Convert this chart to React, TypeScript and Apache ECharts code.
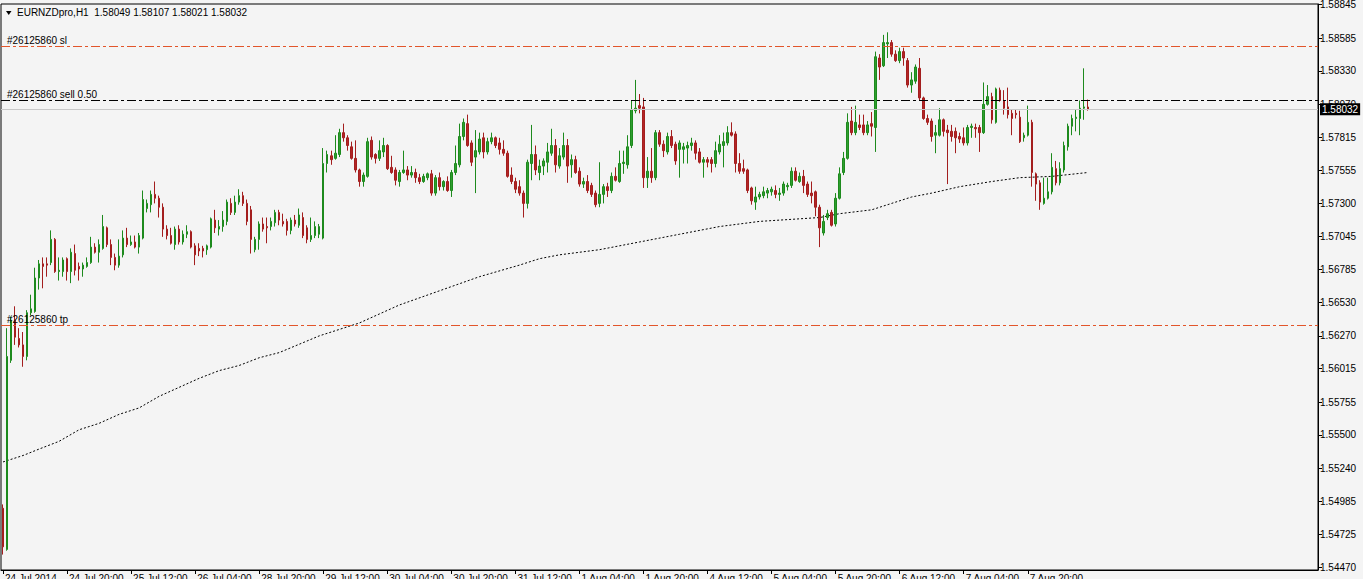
import React, { useEffect, useRef } from "react";
import * as echarts from "echarts";

const headerText = "EURNZDpro,H1  1.58049 1.58107 1.58021 1.58032";

const timeLabels = [
  "24 Jul 2014", "24 Jul 20:00", "25 Jul 12:00", "26 Jul 04:00", "28 Jul 20:00",
  "29 Jul 12:00", "30 Jul 04:00", "30 Jul 20:00", "31 Jul 12:00", "1 Aug 04:00",
  "1 Aug 20:00", "4 Aug 12:00", "5 Aug 04:00", "5 Aug 20:00", "6 Aug 12:00",
  "7 Aug 04:00", "7 Aug 20:00",
];

const priceTicks = [
  1.5447, 1.54725, 1.54985, 1.5524, 1.555, 1.55755, 1.56015, 1.5627, 1.5653,
  1.56785, 1.57045, 1.573, 1.57555, 1.57815, 1.5807, 1.5833, 1.58585, 1.58845,
];

const opens = [
  1.5493,1.5461,1.5608,1.5639,1.5625,1.5620,1.5611,1.5645,1.5646,1.5672,
  1.5683,1.5683,1.5684,1.5702,1.5677,1.5677,1.5687,1.5677,1.5691,1.5681,
  1.5679,1.5681,1.5684,1.5696,1.5692,1.5695,1.5711,1.5698,1.5688,1.5682,
  1.5690,1.5703,1.5698,1.5700,1.5696,1.5703,1.5726,1.5729,1.5737,1.5734,
  1.5727,1.5710,1.5705,1.5698,1.5710,1.5700,1.5706,1.5708,1.5697,1.5695,
  1.5695,1.5694,1.5696,1.5717,1.5710,1.5712,1.5716,1.5730,1.5723,1.5731,
  1.5736,1.5730,1.5725,1.5694,1.5702,1.5714,1.5712,1.5712,1.5715,1.5723,
  1.5716,1.5716,1.5709,1.5717,1.5713,1.5719,1.5711,1.5702,1.5705,1.5706,
  1.5703,1.5761,1.5767,1.5765,1.5768,1.5785,1.5781,1.5774,1.5765,1.5756,
  1.5747,1.5751,1.5779,1.5768,1.5765,1.5770,1.5775,1.5758,1.5756,1.5747,
  1.5754,1.5756,1.5752,1.5754,1.5750,1.5747,1.5750,1.5753,1.5738,1.5750,
  1.5743,1.5747,1.5740,1.5754,1.5760,1.5782,1.5792,1.5777,1.5766,1.5770,
  1.5781,1.5770,1.5778,1.5781,1.5777,1.5772,1.5769,1.5752,1.5747,1.5743,
  1.5738,1.5730,1.5761,1.5768,1.5754,1.5759,1.5762,1.5769,1.5775,1.5759,
  1.5766,1.5775,1.5760,1.5764,1.5755,1.5745,1.5747,1.5744,1.5738,1.5730,
  1.5737,1.5743,1.5740,1.5751,1.5747,1.5761,1.5760,1.5775,1.5802,1.5806,
  1.5805,1.5750,1.5755,1.5750,1.5785,1.5776,1.5770,1.5782,1.5776,1.5772,
  1.5772,1.5773,1.5775,1.5777,1.5770,1.5762,1.5764,1.5764,1.5761,1.5770,
  1.5775,1.5777,1.5785,1.5784,1.5761,1.5757,1.5756,1.5742,1.5731,1.5735,
  1.5736,1.5738,1.5739,1.5740,1.5737,1.5738,1.5743,1.5744,1.5755,1.5747,
  1.5751,1.5745,1.5738,1.5739,1.5727,1.5707,1.5719,1.5723,1.5714,1.5734,
  1.5754,1.5765,1.5794,1.5785,1.5791,1.5791,1.5785,1.5792,1.5789,1.5843,
  1.5837,1.5854,1.5855,1.5846,1.5841,1.5848,1.5841,1.5822,1.5825,1.5835,
  1.5812,1.5796,1.5794,1.5783,1.5783,1.5795,1.5787,1.5786,1.5786,1.5782,
  1.5781,1.5777,1.5789,1.5789,1.5789,1.5785,1.5807,1.5813,1.5793,1.5818,
  1.5810,1.5805,1.5800,1.5800,1.5797,1.5781,1.5783,1.5793,1.5753,1.5746,
  1.5730,1.5734,1.5739,1.5757,1.5746,1.5756,1.5774,1.5790,1.5796,1.5796,
  1.5804,1.58049,
];

const highs = [
  1.5496,1.5633,1.5642,1.5650,1.5633,1.5630,1.5647,1.5659,1.5680,1.5686,
  1.5688,1.5688,1.5709,1.5703,1.5688,1.5688,1.5688,1.5695,1.5698,1.5684,
  1.5684,1.5688,1.5704,1.5699,1.5702,1.5721,1.5712,1.5702,1.5691,1.5702,
  1.5709,1.5711,1.5705,1.5705,1.5707,1.5740,1.5733,1.5740,1.5747,1.5736,
  1.5730,1.5713,1.5711,1.5712,1.5713,1.5709,1.5713,1.5709,1.5699,1.5699,
  1.5697,1.5698,1.5719,1.5725,1.5717,1.5724,1.5733,1.5734,1.5736,1.5741,
  1.5739,1.5733,1.5728,1.5704,1.5716,1.5719,1.5719,1.5719,1.5725,1.5725,
  1.5722,1.5718,1.5719,1.5721,1.5726,1.5723,1.5713,1.5719,1.5716,1.5714,
  1.5773,1.5771,1.5771,1.5783,1.5788,1.5792,1.5783,1.5778,1.5779,1.5757,
  1.5754,1.5781,1.5782,1.5769,1.5779,1.5781,1.5776,1.5767,1.5758,1.5756,
  1.5771,1.5759,1.5759,1.5757,1.5753,1.5753,1.5754,1.5756,1.5752,1.5754,
  1.5748,1.5751,1.5756,1.5775,1.5792,1.5796,1.5799,1.5779,1.5787,1.5785,
  1.5785,1.5781,1.5785,1.5782,1.5781,1.5779,1.5771,1.5758,1.5750,1.5748,
  1.5740,1.5764,1.5791,1.5775,1.5764,1.5765,1.5777,1.5788,1.5780,1.5773,
  1.5785,1.5780,1.5768,1.5767,1.5758,1.5750,1.5752,1.5746,1.5740,1.5762,
  1.5745,1.5746,1.5754,1.5758,1.5771,1.5771,1.5783,1.5810,1.5826,1.5815,
  1.5812,1.5766,1.5773,1.5787,1.5787,1.5779,1.5785,1.5787,1.5778,1.5779,
  1.5777,1.5778,1.5781,1.5779,1.5773,1.5766,1.5766,1.5766,1.5778,1.5783,
  1.5785,1.5790,1.5793,1.5786,1.5769,1.5764,1.5757,1.5743,1.5743,1.5739,
  1.5743,1.5742,1.5743,1.5744,1.5742,1.5747,1.5746,1.5758,1.5758,1.5754,
  1.5756,1.5747,1.5747,1.5740,1.5729,1.5721,1.5725,1.5725,1.5738,1.5758,
  1.5770,1.5800,1.5805,1.5806,1.5799,1.5799,1.5794,1.5801,1.5848,1.5846,
  1.5861,1.5863,1.5857,1.5849,1.5851,1.5851,1.5843,1.5832,1.5838,1.5843,
  1.5813,1.5799,1.5796,1.5791,1.5804,1.5796,1.5791,1.5791,1.5789,1.5785,
  1.5789,1.5791,1.5792,1.5792,1.5791,1.5824,1.5822,1.5816,1.5820,1.5820,
  1.5818,1.5820,1.5803,1.5803,1.5802,1.5785,1.5806,1.5795,1.5754,1.5748,
  1.5750,1.5750,1.5769,1.5763,1.5762,1.5778,1.5792,1.5799,1.5803,1.5810,
  1.5835,1.58107,
];

const lows = [
  1.5457,1.5460,1.5606,1.5620,1.5618,1.5603,1.5608,1.5643,1.5645,1.5663,
  1.5664,1.5673,1.5682,1.5676,1.5670,1.5673,1.5670,1.5668,1.5674,1.5670,
  1.5673,1.5680,1.5683,1.5691,1.5684,1.5694,1.5696,1.5682,1.5678,1.5680,
  1.5688,1.5696,1.5697,1.5695,1.5691,1.5702,1.5723,1.5723,1.5730,1.5719,
  1.5704,1.5702,1.5698,1.5694,1.5698,1.5698,1.5703,1.5695,1.5682,1.5689,
  1.5688,1.5690,1.5695,1.5707,1.5705,1.5708,1.5713,1.5721,1.5721,1.5729,
  1.5728,1.5713,1.5691,1.5692,1.5694,1.5708,1.5699,1.5709,1.5712,1.5713,
  1.5712,1.5705,1.5706,1.5712,1.5711,1.5703,1.5699,1.5700,1.5703,1.5703,
  1.5702,1.5754,1.5760,1.5764,1.5766,1.5778,1.5771,1.5764,1.5754,1.5743,
  1.5743,1.5750,1.5764,1.5761,1.5763,1.5766,1.5756,1.5753,1.5744,1.5743,
  1.5753,1.5748,1.5750,1.5746,1.5745,1.5746,1.5748,1.5736,1.5736,1.5740,
  1.5740,1.5739,1.5735,1.5752,1.5758,1.5779,1.5774,1.5759,1.5738,1.5768,
  1.5765,1.5768,1.5776,1.5773,1.5768,1.5767,1.5750,1.5745,1.5738,1.5736,
  1.5719,1.5726,1.5748,1.5752,1.5748,1.5752,1.5754,1.5767,1.5754,1.5757,
  1.5764,1.5746,1.5750,1.5753,1.5743,1.5742,1.5738,1.5735,1.5727,1.5727,
  1.5730,1.5735,1.5738,1.5747,1.5746,1.5753,1.5757,1.5773,1.5800,1.5800,
  1.5742,1.5742,1.5746,1.5748,1.5774,1.5766,1.5768,1.5773,1.5760,1.5750,
  1.5761,1.5761,1.5771,1.5764,1.5761,1.5750,1.5758,1.5754,1.5758,1.5768,
  1.5758,1.5775,1.5782,1.5754,1.5753,1.5753,1.5738,1.5729,1.5725,1.5733,
  1.5734,1.5734,1.5736,1.5734,1.5732,1.5736,1.5740,1.5742,1.5747,1.5746,
  1.5738,1.5735,1.5730,1.5720,1.5696,1.5705,1.5717,1.5712,1.5712,1.5733,
  1.5752,1.5764,1.5783,1.5783,1.5787,1.5783,1.5783,1.5782,1.5770,1.5826,
  1.5836,1.5843,1.5844,1.5840,1.5839,1.5837,1.5820,1.5816,1.5823,1.5810,
  1.5795,1.5791,1.5778,1.5769,1.5782,1.5782,1.5745,1.5778,1.5769,1.5777,
  1.5775,1.5775,1.5781,1.5781,1.5770,1.5784,1.5806,1.5792,1.5792,1.5809,
  1.5799,1.5796,1.5783,1.5796,1.5777,1.5778,1.5782,1.5743,1.5732,1.5725,
  1.5729,1.5733,1.5737,1.5744,1.5744,1.5754,1.5771,1.5783,1.5786,1.5783,
  1.5795,1.58021,
];

const closes = [
  1.5463,1.5611,1.5639,1.5626,1.5620,1.5611,1.5645,1.5648,1.5672,1.5683,
  1.5681,1.5682,1.5702,1.5677,1.5678,1.5686,1.5677,1.5692,1.5678,1.5679,
  1.5682,1.5684,1.5696,1.5692,1.5698,1.5712,1.5698,1.5688,1.5682,1.5689,
  1.5703,1.5698,1.5700,1.5696,1.5705,1.5733,1.5730,1.5737,1.5734,1.5727,
  1.5710,1.5705,1.5699,1.5710,1.5700,1.5706,1.5708,1.5696,1.5690,1.5693,
  1.5693,1.5697,1.5718,1.5711,1.5712,1.5717,1.5731,1.5723,1.5731,1.5736,
  1.5730,1.5716,1.5702,1.5702,1.5714,1.5710,1.5711,1.5716,1.5723,1.5717,
  1.5714,1.5709,1.5717,1.5714,1.5721,1.5705,1.5702,1.5705,1.5712,1.5712,
  1.5761,1.5768,1.5764,1.5769,1.5785,1.5781,1.5775,1.5765,1.5756,1.5747,
  1.5752,1.5778,1.5766,1.5765,1.5771,1.5775,1.5757,1.5754,1.5748,1.5754,
  1.5756,1.5752,1.5754,1.5750,1.5747,1.5751,1.5753,1.5738,1.5750,1.5743,
  1.5747,1.5740,1.5754,1.5761,1.5782,1.5793,1.5775,1.5762,1.5771,1.5780,
  1.5770,1.5778,1.5781,1.5775,1.5772,1.5769,1.5751,1.5747,1.5741,1.5738,
  1.5730,1.5762,1.5768,1.5756,1.5759,1.5763,1.5770,1.5775,1.5760,1.5767,
  1.5775,1.5759,1.5764,1.5754,1.5745,1.5747,1.5740,1.5737,1.5729,1.5737,
  1.5743,1.5740,1.5751,1.5748,1.5761,1.5762,1.5774,1.5803,1.5804,1.5804,
  1.5750,1.5755,1.5750,1.5785,1.5776,1.5771,1.5782,1.5775,1.5763,1.5777,
  1.5774,1.5775,1.5777,1.5769,1.5762,1.5764,1.5762,1.5761,1.5771,1.5776,
  1.5778,1.5785,1.5783,1.5761,1.5755,1.5755,1.5740,1.5732,1.5735,1.5737,
  1.5739,1.5740,1.5741,1.5737,1.5738,1.5745,1.5744,1.5755,1.5748,1.5751,
  1.5744,1.5737,1.5736,1.5727,1.5711,1.5716,1.5722,1.5713,1.5734,1.5753,
  1.5765,1.5793,1.5785,1.5793,1.5789,1.5785,1.5791,1.5790,1.5844,1.5836,
  1.5855,1.5855,1.5846,1.5841,1.5848,1.5843,1.5822,1.5826,1.5836,1.5812,
  1.5796,1.5793,1.5782,1.5785,1.5795,1.5786,1.5785,1.5782,1.5781,1.5780,
  1.5777,1.5789,1.5790,1.5788,1.5785,1.5807,1.5813,1.5795,1.5819,1.5810,
  1.5804,1.5799,1.5796,1.5799,1.5778,1.5783,1.5793,1.5754,1.5745,1.5731,
  1.5734,1.5739,1.5758,1.5746,1.5757,1.5775,1.5790,1.5796,1.5797,1.5804,
  1.5805,1.58032,
];

const maBars = [
  0, 5, 9, 14, 19, 24, 29, 34, 39, 44, 49, 54, 59, 64, 69, 79, 89, 99, 109, 119,
  129, 134, 139, 149, 159, 169, 179, 189, 199, 204, 209, 217, 222, 227, 232, 239,
  247, 254, 262, 271,
];
const maValues = [
  1.5529, 1.5534, 1.5539, 1.5545, 1.5554, 1.5559, 1.5566, 1.5571, 1.558, 1.5587,
  1.5594, 1.56, 1.5604, 1.561, 1.5614, 1.5627, 1.5637, 1.5651, 1.5662, 1.5673,
  1.5682, 1.5687, 1.569, 1.5694, 1.57, 1.5706, 1.5712, 1.5716, 1.5718, 1.5719,
  1.5722, 1.5725, 1.573, 1.5735, 1.5738, 1.5743, 1.5747, 1.575, 1.5751, 1.5754,
];

const slPrice = 1.5852;
const entryPrice = 1.581;
const tpPrice = 1.5635;
const bidPrice = 1.58032;
const slLabel = "#26125860 sl";
const entryLabel = "#26125860 sell 0.50";
const tpLabel = "#26125860 tp";
const slotCount = 329;

export default function App() {
  const ref = useRef<HTMLDivElement>(null);

  useEffect(() => {
    const chart = echarts.init(ref.current as HTMLDivElement, null, { renderer: "svg" });
    const font = "Liberation Sans, Arial, sans-serif";
    const candles = opens.map((o, i) => [o, closes[i], lows[i], highs[i]]);
    const slots = Array.from({ length: slotCount }, (_, i) => String(i));
    const showTick = (i: number) => i % 16 === 0 && i / 16 < timeLabels.length;
    const dashDot = [9, 3, 3, 3];
    const orderLine = (price: number, text: string, color: string) => ({
      yAxis: price,
      lineStyle: { color, width: 1, type: dashDot },
      label: {
        show: true,
        position: "insideStartTop",
        formatter: text,
        color: "#000",
        fontSize: 10,
        fontFamily: font,
        distance: [6, 1],
      },
    });

    chart.setOption({
      animation: false,
      backgroundColor: "#f4f4f4",
      grid: {
        left: 1,
        right: 45,
        top: 4,
        bottom: 9,
        containLabel: false,
        outerBoundsMode: "none",
        show: true,
        borderColor: "#000",
        borderWidth: 1,
        backgroundColor: "#f4f4f4",
      },
      xAxis: {
        type: "category",
        data: slots,
        boundaryGap: true,
        axisLine: { show: true, lineStyle: { color: "#000", width: 1 } },
        axisTick: {
          show: true,
          alignWithLabel: true,
          interval: (i: number) => showTick(i),
          length: 4,
          lineStyle: { color: "#000" },
        },
        axisLabel: {
          show: true,
          interval: (i: number) => showTick(i),
          formatter: (_v: string, i: number) => (showTick(i) ? timeLabels[i / 16] : ""),
          align: "left",
          margin: 3,
          padding: [0, 0, 0, 2],
          fontSize: 10,
          fontFamily: font,
          color: "#000",
        },
        splitLine: { show: false },
      },
      yAxis: {
        type: "value",
        position: "right",
        min: 1.5445,
        max: 1.5885,
        splitLine: { show: false },
        axisLine: { show: true, lineStyle: { color: "#000", width: 1 } },
        axisTick: {
          show: true,
          customValues: priceTicks,
          length: 4,
          lineStyle: { color: "#000" },
        },
        axisLabel: {
          show: true,
          customValues: priceTicks,
          formatter: (v: number) => v.toFixed(5),
          margin: 2,
          fontSize: 10,
          fontFamily: font,
          color: "#000",
        },
      },
      series: [
        {
          type: "line",
          data: maBars.map((b, k) => [b, maValues[k]]),
          symbol: "none",
          silent: true,
          lineStyle: { color: "#000", width: 1, type: [2, 2] },
          z: 1,
        },
        {
          type: "candlestick",
          data: candles,
          barWidth: 2,
          silent: true,
          z: 3,
          itemStyle: {
            color: "#2f9e2f",
            color0: "#b32525",
            borderColor: "#1d8a1d",
            borderColor0: "#a31e1e",
            borderWidth: 1,
          },
          markLine: {
            silent: true,
            precision: 5,
            symbol: ["none", "none"],
            animation: false,
            data: [
              orderLine(slPrice, slLabel, "#e2552a"),
              orderLine(entryPrice, entryLabel, "#000"),
              orderLine(tpPrice, tpLabel, "#e2552a"),
              {
                yAxis: bidPrice,
                lineStyle: { color: "#c8c8c8", width: 1, type: "solid" },
                label: {
                  show: true,
                  position: "end",
                  formatter: bidPrice.toFixed(5),
                  backgroundColor: "#000",
                  color: "#fff",
                  fontSize: 10,
                  fontFamily: font,
                  padding: [1, 2, 1, 2],
                  distance: 2,
                },
              },
            ],
          },
        },
      ],
      graphic: [
        {
          type: "polygon",
          shape: { points: [[6, 11], [11.5, 11], [8.75, 15]] },
          style: { fill: "#000" },
        },
        {
          type: "text",
          x: 17,
          y: 7,
          style: {
            text: headerText,
            fontSize: 10,
            fontFamily: font,
            fill: "#000",
            verticalAlign: "top",
          },
        },
      ],
    });

    return () => chart.dispose();
  }, []);

  return (
    <div
      ref={ref}
      style={{ position: "absolute", left: 0, top: 0, width: 1363, height: 579 }}
    />
  );
}
